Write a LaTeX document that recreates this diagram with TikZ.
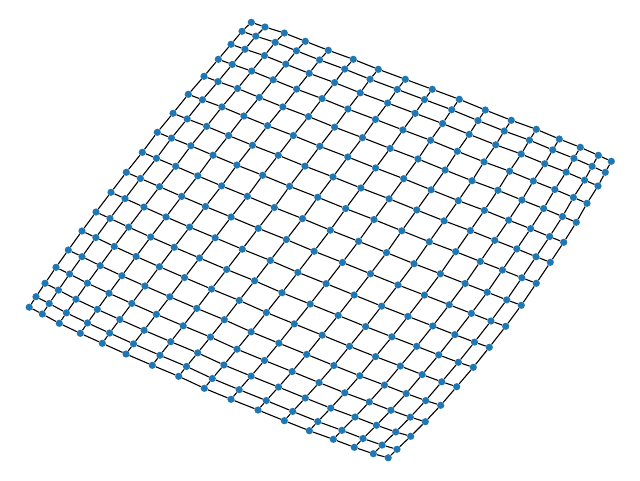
\documentclass[tikz,border=0pt]{standalone}
\definecolor{nodeblue}{RGB}{31,119,180}
\begin{document}
\begin{tikzpicture}[x=1pt,y=-1pt,
  vertex/.style={circle,fill=nodeblue,draw=none,inner sep=0pt,minimum size=7.2pt},
  link/.style={draw=black,line width=1.1pt}]
\useasboundingbox (0,0) rectangle (640,480);
% corners
\def\Lx{29.2}\def\Ly{307.2}
\def\Tx{251.3}\def\Ty{22.3}
\def\Rx{611.3}\def\Ry{161.3}
\def\Bx{388.2}\def\By{457.8}
% boundary node positions
\def\AX{{29.2,36.0,45.0,56.0,68.3,82.0,96.0,111.0,126.3,142.3,157.3,173.0,188.3,204.0,218.3,231.0,242.0,251.3}}
\def\AY{{307.2,296.7,283.3,267.3,250.0,231.0,212.0,192.3,172.3,152.3,132.3,113.3,94.3,76.3,59.3,44.3,31.3,22.3}}
\def\DX{{388.2,397.0,410.7,425.3,440.7,456.7,473.3,489.3,505.7,521.3,536.3,550.3,563.7,576.3,587.0,598.0,605.3,611.3}}
\def\DY{{457.8,449.3,436.3,421.7,405.3,386.7,367.3,347.3,326.3,305.3,283.3,262.3,242.3,222.3,203.3,186.0,172.3,161.3}}
\def\BX{{29.2,42.3,59.3,80.3,102.3,126.0,152.3,178.7,204.3,231.0,258.0,284.3,309.3,333.3,354.3,373.3,388.2}}
\def\BY{{307.2,314.0,323.3,333.3,343.3,354.0,365.3,376.3,388.3,399.3,410.0,420.7,430.7,439.3,447.3,453.7,457.8}}
\def\CX{{251.3,265.0,284.3,305.3,328.3,353.3,378.3,405.3,432.3,459.3,485.3,511.3,536.3,559.3,580.3,598.3,611.3}}
\def\CY{{22.3,27.0,33.0,41.3,50.3,59.3,69.3,79.3,89.3,99.3,110.0,120.3,129.3,139.0,147.3,155.3,161.3}}
\def\SS{{0,0.034,0.080,0.1347,0.195,0.260,0.327,0.395,0.465,0.535,0.605,0.673,0.740,0.805,0.8653,0.920,0.966,1}}
\def\TT{{0,0.037,0.089,0.147,0.211,0.2805,0.351,0.425,0.5,0.575,0.649,0.7195,0.789,0.853,0.911,0.963,1}}
\foreach \i in {0,...,17}{
  \foreach \j in {0,...,16}{
    \pgfmathsetmacro\uu{\SS[\i]}
    \pgfmathsetmacro\vv{\TT[\j]}
    \pgfmathsetmacro\px{(1-\vv)*\AX[\i]+\vv*\DX[\i]+(1-\uu)*\BX[\j]+\uu*\CX[\j]
      -((1-\uu)*(1-\vv)*\Lx+\uu*(1-\vv)*\Tx+\uu*\vv*\Rx+(1-\uu)*\vv*\Bx)}
    \pgfmathsetmacro\py{(1-\vv)*\AY[\i]+\vv*\DY[\i]+(1-\uu)*\BY[\j]+\uu*\CY[\j]
      -((1-\uu)*(1-\vv)*\Ly+\uu*(1-\vv)*\Ty+\uu*\vv*\Ry+(1-\uu)*\vv*\By)}
    \node[vertex] (n-\i-\j) at (\px,\py) {};
  }
}
\foreach \i in {0,...,17}{
  \foreach \j [evaluate=\j as \k using int(\j+1)] in {0,...,15}{
    \draw[link] (n-\i-\j) -- (n-\i-\k);
  }
}
\foreach \i [evaluate=\i as \m using int(\i+1)] in {0,...,16}{
  \foreach \j in {0,...,16}{
    \draw[link] (n-\i-\j) -- (n-\m-\j);
  }
}
\end{tikzpicture}
\end{document}
